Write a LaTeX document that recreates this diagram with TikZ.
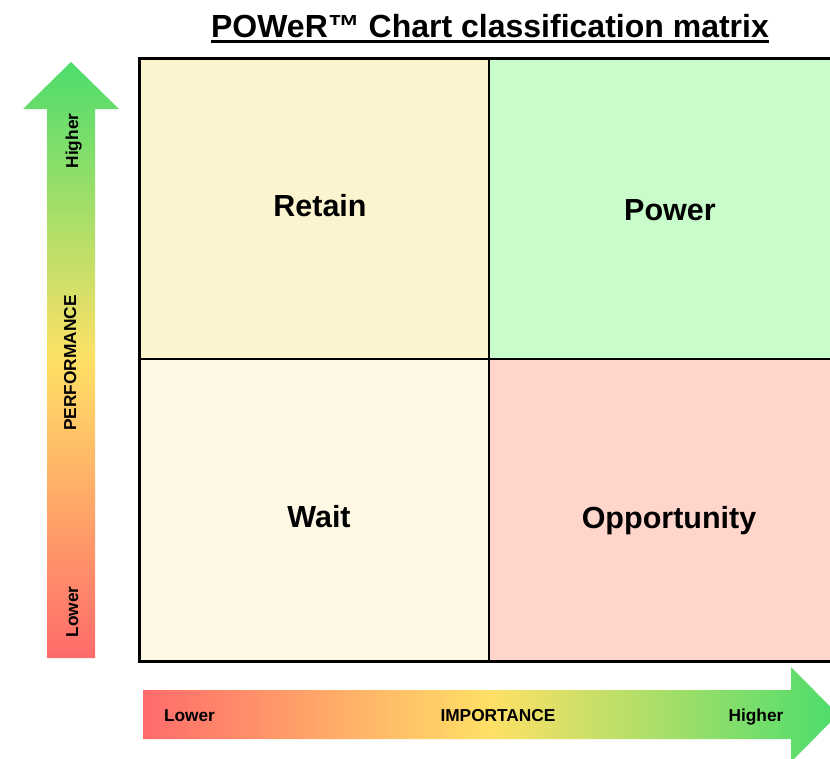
\documentclass[tikz,border=0pt]{standalone}
\usepackage{fontspec}
\setmainfont{Liberation Sans}
\definecolor{arrowgreen}{RGB}{76,221,108}
\definecolor{arrowyellow}{RGB}{255,224,102}
\definecolor{arrowred}{RGB}{255,107,107}
\definecolor{retaincol}{RGB}{252,243,207}
\definecolor{powercol}{RGB}{201,252,203}
\definecolor{waitcol}{RGB}{254,248,229}
\definecolor{oppcol}{RGB}{255,213,204}
\tikzset{
  celllabel/.style={font=\fontsize{30.5}{36}\selectfont\bfseries, inner sep=0pt, anchor=base},
  axislabel/.style={font=\fontsize{17.3}{20}\selectfont\bfseries, inner sep=0pt, anchor=base},
  outerline/.style={line width=3pt, black},
  innerline/.style={line width=2.4pt, black}
}
\begin{document}
\begin{tikzpicture}[x=1pt,y=-1pt]
\useasboundingbox (0,0) rectangle (830,758);
\clip (0,0) rectangle (830,758);
\fill[white] (0,0) rectangle (830,758);
% title
\node[font=\fontsize{32}{36}\selectfont\bfseries, inner sep=0pt, anchor=base] (title) at (490,37) {POWeR™ Chart classification matrix};
\draw[line width=2.8pt] ([yshift=-4.5pt]title.base west) -- ([yshift=-4.5pt]title.base east);
% cells
\fill[retaincol] (139,58.5) rectangle (489,359);
\fill[powercol] (489,58.5) rectangle (840,359);
\fill[waitcol] (139,359) rectangle (489,661);
\fill[oppcol] (489,359) rectangle (840,661);
\draw[innerline] (489,58.5) -- (489,661);
\draw[innerline] (139,359) -- (840,359);
\draw[outerline] (840,58.5) -- (139,58.5) -- (139,661) -- (840,661);
% cell labels
\node[celllabel] (retain) at (320,216) {Retain};
\node[celllabel] (power) at (670,220) {Power};
\node[celllabel] (wait) at (319,527) {Wait};
\node[celllabel] (opp) at (669,528) {Opportunity};
% vertical arrow
\shade[top color=arrowgreen, bottom color=arrowred, middle color=arrowyellow]
  (47,658) -- (47,109) -- (23,109) -- (71,62) -- (119,109) -- (95,109) -- (95,658) -- cycle;
% horizontal arrow
\shade[left color=arrowred, right color=arrowgreen, middle color=arrowyellow]
  (143,690) -- (791,690) -- (791,667) -- (838,714.5) -- (791,762) -- (791,739) -- (143,739) -- cycle;
% axis labels
\node[axislabel, rotate=90] (vhigh) at (78,141) {Higher};
\node[axislabel, rotate=90] (vperf) at (76,363) {PERFORMANCE};
\node[axislabel, rotate=90] (vlow) at (78,612) {Lower};
\node[axislabel] (hlow) at (189.5,721) {Lower};
\node[axislabel] (himp) at (498,721) {IMPORTANCE};
\node[axislabel] (hhigh) at (756,721) {Higher};
\end{tikzpicture}
\end{document}
